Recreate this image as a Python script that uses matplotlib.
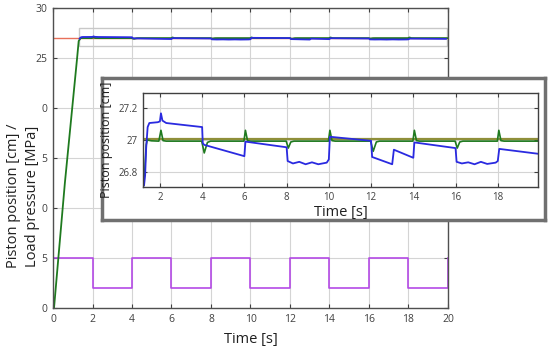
import matplotlib
matplotlib.use("Agg")
import matplotlib.pyplot as plt
from matplotlib.patches import Rectangle

plt.rcParams['font.family'] = ['Open Sans', 'DejaVu Sans']

# load pressure [MPa], square wave
T_LOAD = [0, 2, 4, 6, 8, 10, 12, 14, 16, 18, 20]
P_LOAD = [5, 2, 5, 2, 5, 2, 5, 2, 5, 2, 5]

# reference position [cm]
T_REF = [0, 20]
X_REF = [27.0, 27.0]
T_REF_IN = [1.2, 20]
X_REF_IN = [27.004, 27.004]

# initial ramp of the green (model) curve in main plot
T_RAMP = [0, 0.05, 0.6, 1.22, 1.3]
X_RAMP = [0, 0.0, 12.5, 25.0, 26.7]

# green curve, zoomed
T_GREEN = [1.2, 1.28, 1.35, 1.4, 1.6, 1.95, 2.05, 2.15, 2.3,
           3.98, 4.1, 4.25, 4.4, 5.98, 6.05, 6.15, 6.3,
           7.98, 8.08, 8.2, 8.35, 9.98, 10.05, 10.15, 10.3,
           11.98, 12.1, 12.25, 12.4, 13.98, 14.05, 14.15, 14.3,
           15.98, 16.08, 16.2, 16.35, 17.98, 18.05, 18.15, 18.3, 20]
X_GREEN = [26.70, 26.80, 26.97, 27.0, 26.995, 26.993, 27.06, 26.996, 26.993,
           26.993, 26.92, 26.985, 26.993, 26.993, 27.06, 26.996, 26.993,
           26.993, 26.95, 26.988, 26.993, 26.993, 27.06, 26.996, 26.993,
           26.993, 26.93, 26.988, 26.993, 26.993, 27.06, 26.996, 26.993,
           26.993, 26.95, 26.988, 26.993, 26.993, 27.06, 26.996, 26.993, 26.993]

# blue curve (measured), zoomed
T_BLUE = [1.25, 1.3, 1.35, 1.42, 1.5, 1.9, 2.0, 2.05, 2.12, 2.3,
          4.0, 4.03, 4.1, 6.0, 6.05, 8.0, 8.05, 8.3, 8.6, 8.9, 9.2, 9.5, 9.9,
          10.0, 10.05, 12.0, 12.05, 13.0, 13.08, 14.0, 14.05, 16.0, 16.05,
          16.3, 16.6, 16.9, 17.2, 17.5, 17.9, 18.0, 18.07, 19.9]
X_BLUE = [26.72, 26.78, 26.95, 27.08, 27.105, 27.11, 27.115, 27.165, 27.12, 27.105,
          27.08, 26.98, 26.97, 26.90, 26.99, 26.955, 26.87, 26.855, 26.865, 26.85,
          26.862, 26.85, 26.86, 26.88, 27.02, 26.995, 26.895, 26.85, 26.94, 26.89,
          26.985, 26.95, 26.865, 26.855, 26.862, 26.85, 26.865, 26.852, 26.86,
          26.87, 26.945, 26.915]

# zoom box drawn on main plot
BOX_T = (1.33, 19.95)
BOX_X = (26.2, 28.0)

C_BLUE = '#2a2ae0'
C_GREEN = '#1f7a1f'
C_RED = '#e8705a'
C_OLIVE = '#8f8f3a'
C_MAG = '#b44ae6'
C_GRID = '#d4d4d4'
C_TXT = '#404040'

fig = plt.figure(figsize=(5.5, 3.5), dpi=100)

# ---- main plot
ax = fig.add_axes([0.0964, 0.12, 0.718, 0.857])
ax.plot(T_REF, X_REF, color=C_RED, lw=1.0)
ax.plot(T_LOAD, P_LOAD, color=C_MAG, lw=1.2, drawstyle='steps-post')
ax.plot(T_RAMP + T_GREEN[3:], X_RAMP + X_GREEN[3:], color=C_GREEN, lw=1.3)
ax.plot(T_BLUE[2:], X_BLUE[2:], color=C_BLUE, lw=1.3)
ax.add_patch(Rectangle((BOX_T[0], BOX_X[0]), BOX_T[1] - BOX_T[0], BOX_X[1] - BOX_X[0],
                       fill=False, ec='#c8c8c8', lw=1.0))
ax.set_xlim(0, 20)
ax.set_ylim(0, 30)
ax.set_xticks(range(0, 21, 2))
ax.set_yticks([0, 5, 10, 15, 20, 25, 30])
ax.set_yticklabels(['0', '5', '0', '5', '0', '25', '30'])
ax.grid(True, color=C_GRID, lw=0.8)
ax.set_axisbelow(True)
ax.tick_params(direction='in', top=True, right=True, labelsize=7.5, colors=C_TXT,
               length=3, pad=4)
for s in ax.spines.values():
    s.set_color('#505050')
    s.set_linewidth(1.0)
ax.set_xlabel('Time [s]', fontsize=10.5, color='#202020', labelpad=5)
fig.text(0.042, 0.44, 'Piston position [cm] /\nLoad pressure [MPa]', rotation=90,
         ha='center', va='center', fontsize=10.5, color='#202020', linespacing=1.3)

# ---- inset frame
frame = fig.add_axes([0.1855, 0.371, 0.8055, 0.406])
frame.set_xticks([])
frame.set_yticks([])
for s in frame.spines.values():
    s.set_color('#707070')
    s.set_linewidth(2.5)

# ---- inset plot
axi = fig.add_axes([0.26, 0.466, 0.718, 0.268])
axi.plot(T_REF_IN, X_REF_IN, color=C_OLIVE, lw=1.6)
axi.plot(T_GREEN, X_GREEN, color=C_GREEN, lw=1.2)
axi.plot(T_BLUE, X_BLUE, color=C_BLUE, lw=1.3)
axi.set_xlim(1.2, 19.9)
axi.set_ylim(26.71, 27.29)
axi.set_xticks(range(2, 19, 2))
axi.set_yticks([26.8, 27.0, 27.2])
axi.set_yticklabels(['26.8', '27', '27.2'])
axi.grid(True, color=C_GRID, lw=0.8)
axi.set_axisbelow(True)
axi.tick_params(direction='in', top=True, right=True, labelsize=7, colors=C_TXT,
                length=3, pad=4)
for s in axi.spines.values():
    s.set_color('#404040')
    s.set_linewidth(1.0)
axi.set_xlabel('Time [s]', fontsize=10.5, color='#202020', labelpad=1)
axi.set_ylabel('Piston position [cm]', fontsize=9, color='#202020')
axi.yaxis.set_label_coords(-0.076, 0.5)

fig.savefig('out.png', dpi=100)
